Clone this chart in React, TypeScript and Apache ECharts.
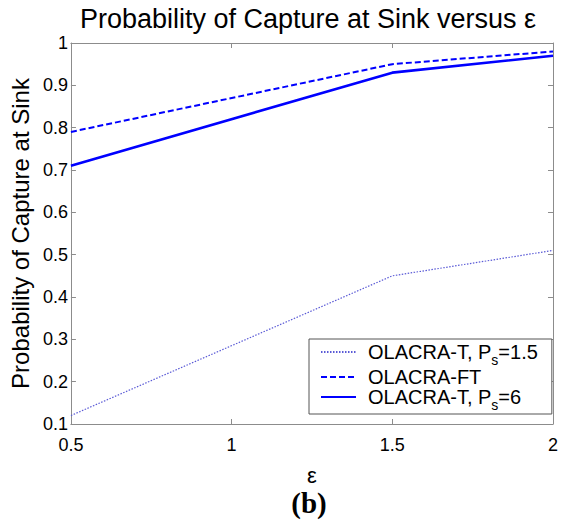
import React, { useEffect, useRef } from "react";
import * as echarts from "echarts";

const epsilon = [0.5, 1.5, 2];
const seriesNames = ["OLACRA-T, Ps=1.5", "OLACRA-FT", "OLACRA-T, Ps=6"];
const olacraT15 = [0.12, 0.45, 0.51];
const olacraFT = [0.79, 0.95, 0.98];
const olacraT6 = [0.71, 0.93, 0.97];
const xTicks = [0.5, 1, 1.5, 2];
const yTicks = [0.1, 0.2, 0.3, 0.4, 0.5, 0.6, 0.7, 0.8, 0.9, 1];

const FONT = "'Liberation Sans', Arial, sans-serif";

export default function App() {
  const ref = useRef<HTMLDivElement>(null);
  useEffect(() => {
    if (!ref.current) return;
    const chart = echarts.init(ref.current, undefined, { renderer: "svg" });
    const pair = (ys: number[]) => epsilon.map((x, i) => [x, ys[i]]);
    const axisCommon = {
      min: xTicks[0],
      max: xTicks[xTicks.length - 1],
      interval: 0.5,
    };
    const yCommon = {
      min: yTicks[0],
      max: yTicks[yTicks.length - 1],
      interval: 0.1,
    };
    const line = { lineStyle: { color: "#8c8c8c", width: 1 } };
    chart.setOption({
      animation: false,
      backgroundColor: "#ffffff",
      title: [
        {
          text: "Probability of Capture at Sink versus ε",
          left: 308,
          top: 5,
          padding: 0,
          textAlign: "center",
          textStyle: { fontFamily: FONT, fontSize: 27, fontWeight: "normal", color: "#000" },
        },
        {
          text: "(b)",
          left: 309,
          top: 488,
          padding: 0,
          textAlign: "center",
          textStyle: { fontFamily: "'Liberation Serif', 'Times New Roman', serif", fontSize: 29, fontWeight: "bold", color: "#000" },
        },
      ],
      grid: { left: 62, right: 6, top: 43, bottom: 96, containLabel: false },
      legend: {
        orient: "vertical",
        left: 309,
        top: 339,
        padding: [3, 14, 2, 11],
        itemGap: 0,
        itemWidth: 35,
        itemHeight: 14,
        borderColor: "#555",
        borderWidth: 1,
        borderRadius: 0,
        backgroundColor: "#fff",
        itemStyle: { opacity: 0 },
        data: seriesNames,
        formatter: (name: string) => {
          const m = name.match(/^(.*P)s(=.*)$/);
          if (m) return `${m[1]}{sub|s}${m[2]}`;
          return name;
        },
        textStyle: {
          fontFamily: FONT,
          fontSize: 20,
          color: "#000",
          padding: [0, 0, 0, 7],
          rich: {
            sub: { fontFamily: FONT, fontSize: 14, verticalAlign: "bottom", padding: [16, 0, 0, 0], color: "#000" },
          },
        },
      },
      xAxis: [
        {
          type: "value",
          ...axisCommon,
          name: "ε",
          nameLocation: "middle",
          nameGap: 40,
          nameTextStyle: { fontFamily: FONT, fontSize: 22, color: "#000" },
          axisLine: { show: true, ...line },
          axisTick: { show: true, inside: true, length: 5, ...line },
          axisLabel: { fontFamily: FONT, fontSize: 18, color: "#000", margin: 12 },
          splitLine: { show: false },
        },
        {
          type: "value",
          position: "top",
          ...axisCommon,
          axisLine: { show: true, ...line },
          axisTick: { show: true, inside: true, length: 5, ...line },
          axisLabel: { show: false },
          splitLine: { show: false },
        },
      ],
      yAxis: [
        {
          type: "value",
          ...yCommon,
          name: "Probability of Capture at Sink",
          nameLocation: "middle",
          nameGap: 29,
          nameTextStyle: { fontFamily: FONT, fontSize: 24, color: "#000" },
          axisLine: { show: true, ...line },
          axisTick: { show: true, inside: true, length: 5, ...line },
          axisLabel: { fontFamily: FONT, fontSize: 18, color: "#000", margin: 3 },
          splitLine: { show: false },
        },
        {
          type: "value",
          position: "right",
          ...yCommon,
          axisLine: { show: true, ...line },
          axisTick: { show: true, inside: true, length: 5, ...line },
          axisLabel: { show: false },
          splitLine: { show: false },
        },
      ],
      series: [
        {
          name: seriesNames[0],
          type: "line",
          data: pair(olacraT15),
          showSymbol: false,
          symbol: "none",
          lineStyle: { color: "#5a5ad6", width: 1.2, type: [1.5, 1.5] },
          itemStyle: { color: "#5a5ad6" },
        },
        {
          name: seriesNames[1],
          type: "line",
          data: pair(olacraFT),
          showSymbol: false,
          symbol: "none",
          lineStyle: { color: "#0000ff", width: 2, type: [6, 3] },
          itemStyle: { color: "#0000ff" },
        },
        {
          name: seriesNames[2],
          type: "line",
          data: pair(olacraT6),
          showSymbol: false,
          symbol: "none",
          lineStyle: { color: "#0000ff", width: 2.6, type: "solid" },
          itemStyle: { color: "#0000ff" },
        },
      ],
    });
    return () => chart.dispose();
  }, []);
  return (
    <div
      ref={ref}
      style={{ position: "absolute", left: 0, top: 0, width: 561, height: 520, background: "#fff" }}
    />
  );
}
